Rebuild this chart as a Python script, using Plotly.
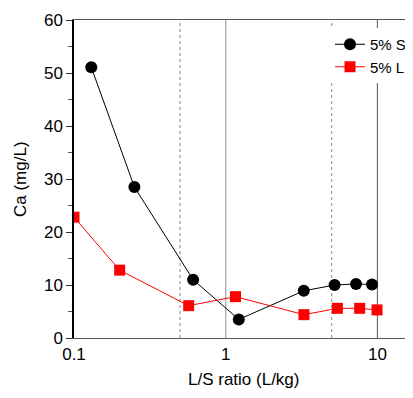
import plotly.graph_objects as go

s_x = [0.13, 0.25, 0.61, 1.22, 3.27, 5.22, 7.23, 9.22]
s_y = [51.1, 28.5, 11.0, 3.5, 8.9, 10.0, 10.2, 10.1]
l_x = [0.1, 0.2, 0.57, 1.16, 3.28, 5.45, 7.64, 9.94]
l_y = [22.8, 12.8, 6.1, 7.8, 4.4, 5.6, 5.6, 5.3]
x_ticks = [0.1, 1, 10]
x_tick_labels = ["0.1", "1", "10"]
dotted_x = [0.5, 5]
solid_x = [1, 10]

font = "Liberation Sans, Arial, sans-serif"
PW = 331.0  # plot width
PH = 318.0  # plot height
fig = go.Figure()
for xv in dotted_x:
    fig.add_shape(type="line", x0=xv, x1=xv, y0=0, y1=1, xref="x", yref="paper",
                  line=dict(color="#888888", width=1, dash="dot"), layer="below")
fig.add_shape(type="line", x0=solid_x[0], x1=solid_x[0], y0=0, y1=1, xref="x", yref="paper",
              line=dict(color="#aaaaaa", width=1.3), layer="below")
fig.add_shape(type="line", x0=solid_x[1], x1=solid_x[1], y0=0, y1=1, xref="x", yref="paper",
              line=dict(color="#666666", width=1.1), layer="below")

fig.add_trace(go.Scatter(x=s_x, y=s_y, name="5% S", mode="lines+markers",
                         line=dict(color="black", width=1),
                         marker=dict(symbol="circle", size=12, color="black")))
fig.add_trace(go.Scatter(x=l_x, y=l_y, name="5% L", mode="lines+markers",
                         line=dict(color="red", width=1),
                         marker=dict(symbol="square", size=11, color="red")))

fig.add_annotation(text="L/S ratio (L/kg)", xref="paper", yref="paper", x=(244 - 74) / PW,
                   y=-30 / PH, xanchor="center", yanchor="top", showarrow=False,
                   font=dict(size=17))
fig.add_annotation(text="Ca (mg/L)", xref="paper", yref="paper", x=-54 / PW,
                   y=0.5, xanchor="center", yanchor="middle", showarrow=False, textangle=-90,
                   font=dict(size=17))

# page body adds an 8px offset, so the figure is drawn smaller to avoid scrollbars
fig.update_layout(
    width=397, height=382,
    margin=dict(l=66, r=0, t=12, b=52, autoexpand=False),
    paper_bgcolor="white", plot_bgcolor="white",
    font=dict(family=font, size=17, color="black"),
    showlegend=True,
    legend=dict(x=(330 - 74) / PW, y=1 - 8 / PH, xanchor="left", yanchor="top", bgcolor="white",
                font=dict(size=15), borderwidth=0, tracegroupgap=0,
                itemwidth=30),
    xaxis=dict(type="log", range=[-1, -1 + PW / 151.7], tickvals=x_ticks, ticktext=x_tick_labels,
               showgrid=False, zeroline=False, showline=True, linecolor="#555555", linewidth=1.3,
               mirror=True, ticks="", automargin=False, tickfont=dict(size=17)),
    yaxis=dict(range=[0, 60], tickvals=[0, 10, 20, 30, 40, 50, 60], showgrid=False,
               zeroline=False, showline=True, linecolor="black", linewidth=1.5,
               ticks="outside", ticklen=6, tickwidth=1, tickcolor="#333333", automargin=False,
               minor=dict(tickvals=[5, 15, 25, 35, 45, 55], ticks="outside", ticklen=4,
                          tickcolor="#555555"),
               tickfont=dict(size=17)),
)
fig.write_html("out.html")
